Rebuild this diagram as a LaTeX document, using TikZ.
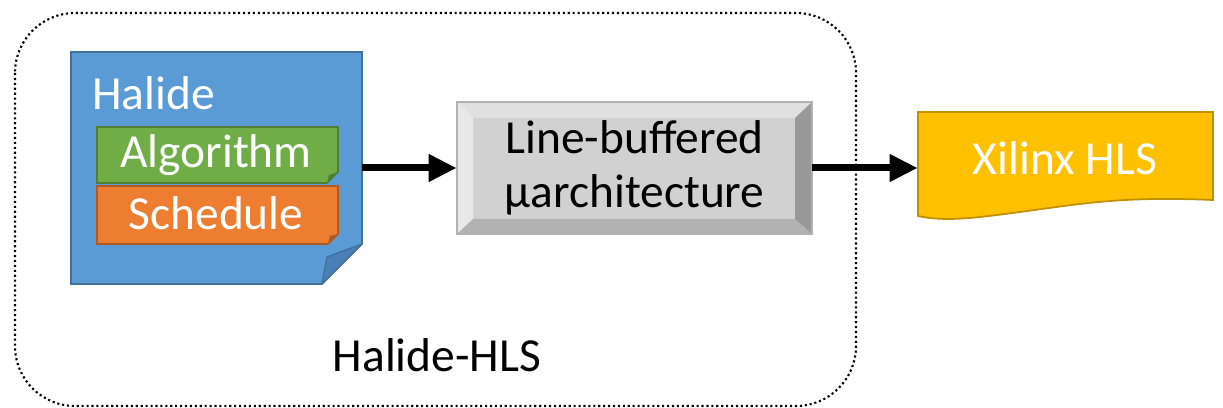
\documentclass[tikz,border=0pt]{standalone}
\usepackage{fontspec}
\setmainfont{Carlito}
\usepackage{xcolor}
\usetikzlibrary{arrows.meta, positioning}

\definecolor{halblue}{HTML}{5B9BD5}
\definecolor{halbluedk}{HTML}{41719C}
\definecolor{halflap}{HTML}{4A7EB6}
\definecolor{algogreen}{HTML}{70AD47}
\definecolor{algogreendk}{HTML}{507E32}
\definecolor{schedorange}{HTML}{ED7D31}
\definecolor{schedorangedk}{HTML}{AE5A21}
\definecolor{hlsyellow}{HTML}{FFC000}
\definecolor{hlsyellowdk}{HTML}{BF9000}

\begin{document}
\begin{tikzpicture}[
    x=0.02cm, y=-0.02cm,
    flow/.style={-{Triangle[length=0.56cm, width=0.52cm]}, line width=0.14cm},
    big/.style={font=\fontsize{27}{31}\selectfont},
    hole/.style={inner sep=0pt, draw=none},
]
\useasboundingbox (0,0) rectangle (1223,408);

% Halide-HLS boundary
\draw[line width=1.2pt, dash pattern=on 1.2pt off 1.6pt, rounded corners=1.2cm]
    (15,13) rectangle (856,406);

% Halide document
\draw[halbluedk, fill=halblue, line width=1pt]
    (71,52) -- (362,52) -- (362,244) -- (322,284) -- (71,284) -- cycle;
\draw[halbluedk, fill=halflap, line width=0.8pt, line join=round]
    (322,284) -- (327,257) -- (362,244) -- cycle;

\draw[algogreendk, fill=algogreen, line width=1pt]
    (97,127) -- (338,127) -- (338,172) -- (327,183) -- (97,183) -- cycle;
\fill[algogreendk] (327,183) -- (329,175) -- (338,172) -- cycle;

\draw[schedorangedk, fill=schedorange, line width=1pt]
    (97,186) -- (338,186) -- (338,234) -- (328,244) -- (97,244) -- cycle;
\fill[schedorangedk] (328,244) -- (330,236) -- (338,234) -- cycle;

% bevelled box
\fill[gray!36] (473,118) rectangle (795,219);
\fill[gray!24] (457,102) -- (812,102) -- (795,118) -- (473,118) -- cycle;
\fill[gray!18] (457,102) -- (473,118) -- (473,219) -- (457,234) -- cycle;
\fill[gray!60] (457,234) -- (473,219) -- (795,219) -- (812,234) -- cycle;
\fill[gray!80!white] (812,102) -- (812,234) -- (795,219) -- (795,118) -- cycle;
\draw[gray!60, line width=0.6pt] (457,102) rectangle (812,234);

% Xilinx document
\draw[hlsyellowdk, fill=hlsyellow, line width=1pt]
    (918,112) -- (1213,112) -- (1213,200)
    .. controls (1120,196) and (1080,204) .. (1020,212)
    .. controls (975,218) and (945,222) .. (918,216) -- cycle;

% nodes
\node[hole, minimum width=5.82cm, minimum height=4.64cm] (halide) at (216.5,168) {};
\node[hole, big, text=white, anchor=west] (halidetxt) at (92,93) {Halide};
\node[hole, big, text=white] (algo) at (216,155) {Algorithm};
\node[hole, big, text=white] (sched) at (216,213) {Schedule};
\node[hole, big, align=center, minimum width=7.1cm, minimum height=2.64cm] (arch) at (634.5,168)
    {Line-buffered\\µarchitecture};
\node[hole, minimum width=5.9cm, minimum height=2cm] (xilinx) at (1065.5,162) {};
\node[hole, big, text=white] (xilinxtxt) at (1065,158) {Xilinx HLS};
\node[hole, big] (hlslabel) at (437,355) {Halide-HLS};

% connectors
\draw[flow] (halide) -- (arch);
\draw[flow] (arch) -- (arch -| xilinx.west);

\end{tikzpicture}
\end{document}
